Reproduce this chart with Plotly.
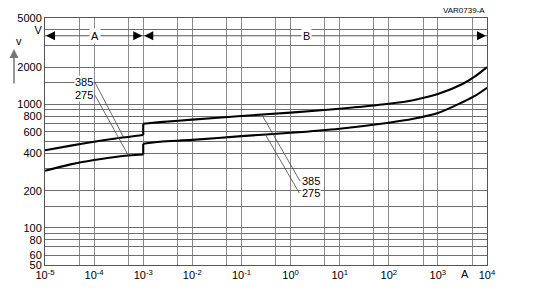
import numpy as np
import plotly.graph_objects as go

# ---- data ----
x_A = [1e-5, 3.16e-5, 1e-4, 3.16e-4, 1e-3]
v385_A = [425, 461, 497, 533, 565]
v275_A = [290, 325, 354, 378, 392]

x_B = [1e-3, 2.2e-3, 1e-2, 1e-1, 1, 10, 100, 316, 1000, 3162, 5900, 1e4]
v385_B = [697, 717, 752, 805, 857, 920, 1010, 1080, 1210, 1460, 1700, 2000]
v275_B = [480, 497, 515, 553, 588, 635, 709, 763, 850, 1040, 1180, 1360]

y_grid = [50, 60, 70, 80, 90, 100, 150, 200, 300, 400, 500, 600, 700, 800, 900,
          1000, 1500, 2000, 3000, 4000, 5000]
y_text = ['50', '60', '', '80', '', '100', '', '200', '', '400', '', '600', '', '800', '',
          '1000', '', '2000', '', 'V', '5000']
x_dec = list(range(-5, 5))
x_grid = []
x_text = []
for d in x_dec:
    x_grid.append(10.0 ** d)
    x_text.append('10<sup>%d</sup>' % d)
    if d < 4:
        x_grid.append(5 * 10.0 ** d)
        x_text.append('')

arrow_level = 3590
FONT = "Liberation Sans, Arial, sans-serif"

fig = go.Figure()

curve = dict(color='black', width=2.1, shape='spline', smoothing=0.8)
for xs, ys in [(x_A, v385_A), (x_B, v385_B), (x_A, v275_A), (x_B, v275_B)]:
    fig.add_trace(go.Scatter(x=xs, y=ys, mode='lines', line=curve,
                             showlegend=False, hoverinfo='skip'))
# vertical jumps at the A/B boundary
for ya, yb in [(v385_A, v385_B), (v275_A, v275_B)]:
    fig.add_trace(go.Scatter(x=[x_A[-1], x_B[0]], y=[ya[-1], yb[0]], mode='lines',
                             line=dict(color='black', width=2.1),
                             showlegend=False, hoverinfo='skip'))

# leader lines
leaders = [
    ([1.04e-4, 3.94e-4], [1510, 545]),
    ([1.04e-4, 4.98e-4], [1187, 386]),
    ([0.259, 1.56], [826, 239]),
    ([0.303, 1.51], [575, 191]),
]
for lx, ly_ in leaders:
    fig.add_trace(go.Scatter(x=lx, y=ly_, mode='lines', line=dict(color='#444', width=0.8),
                             showlegend=False, hoverinfo='skip'))

# range arrow lines A and B
for seg in ([1e-5, 1e-3], [1e-3, 1e4]):
    fig.add_trace(go.Scatter(x=seg, y=[arrow_level, arrow_level], mode='lines',
                             line=dict(color='#555', width=1), showlegend=False,
                             hoverinfo='skip'))

ann = []
ly = np.log10(arrow_level)
# arrowheads
for tip, off in [(-5, 11), (-3, -11), (-3, 11), (4, -11)]:
    ann.append(dict(x=tip, y=ly, xref='x', yref='y',
                    ax=off, ay=0, text='', showarrow=True, arrowhead=2,
                    arrowsize=1.2, arrowwidth=1.5, arrowcolor='black', standoff=1))
# region labels
ann.append(dict(x=-3.99, y=ly, xref='x', yref='y', text='A', showarrow=False,
                bgcolor='white', font=dict(size=11, family=FONT, color='black'),
                borderpad=1))
ann.append(dict(x=0.316, y=ly, xref='x', yref='y', text='B', showarrow=False,
                bgcolor='white', font=dict(size=11, family=FONT, color='black'),
                borderpad=1))
# curve labels
lab_font = dict(size=11, family=FONT, color='black')
ann.append(dict(x=np.log10(1.0e-4), y=np.log10(1510), xref='x', yref='y', text='385',
                showarrow=False, xanchor='right', bgcolor='white', font=lab_font, borderpad=0))
ann.append(dict(x=np.log10(1.0e-4), y=np.log10(1187), xref='x', yref='y', text='275',
                showarrow=False, xanchor='right', bgcolor='white', font=lab_font, borderpad=0))
ann.append(dict(x=np.log10(1.6), y=np.log10(239), xref='x', yref='y', text='385',
                showarrow=False, xanchor='left', bgcolor='white', font=lab_font, borderpad=0))
ann.append(dict(x=np.log10(1.6), y=np.log10(191), xref='x', yref='y', text='275',
                showarrow=False, xanchor='left', bgcolor='white', font=lab_font, borderpad=0))
# x unit label
ann.append(dict(x=3.554, y=-0.036, xref='x', yref='paper', text='A', showarrow=False,
                font=lab_font, yanchor='middle'))
# v axis symbol with arrow
ann.append(dict(x=-0.0701, y=0.906, xref='paper', yref='paper', text='v', showarrow=False,
                font=lab_font, yanchor='middle'))
ann.append(dict(x=-0.0701, y=0.874, xref='paper', yref='paper', text='', showarrow=True,
                ax=0, ay=36, arrowhead=2, arrowsize=1.2, arrowwidth=1.5, arrowcolor='#777'))
# code
ann.append(dict(x=1.0, y=1.032, xref='paper', yref='paper', text='VAR0739-A',
                showarrow=False, xanchor='right', yanchor='middle',
                font=dict(size=8, family=FONT, color='black')))

fig.update_layout(
    width=541, height=293,
    margin=dict(l=45, r=54, t=14, b=24),
    paper_bgcolor='white', plot_bgcolor='white',
    font=dict(family=FONT, size=11, color='black'),
    annotations=ann,
    xaxis=dict(type='log', range=[-5, 4], tickmode='array', tickvals=x_grid,
               ticktext=x_text, showgrid=True, gridcolor='#8c8c8c', gridwidth=1.3,
               showline=True, linecolor='#555', linewidth=1, mirror=True,
               ticks='', zeroline=False, tickfont=dict(size=11)),
    yaxis=dict(type='log', range=[np.log10(50), np.log10(5000)], tickmode='array',
               tickvals=y_grid, ticktext=y_text, showgrid=True, gridcolor='#6e6e6e',
               gridwidth=1, showline=True, linecolor='#555', linewidth=1, mirror=True,
               ticks='', zeroline=False, tickfont=dict(size=11)),
)

fig.write_html("out.html")
